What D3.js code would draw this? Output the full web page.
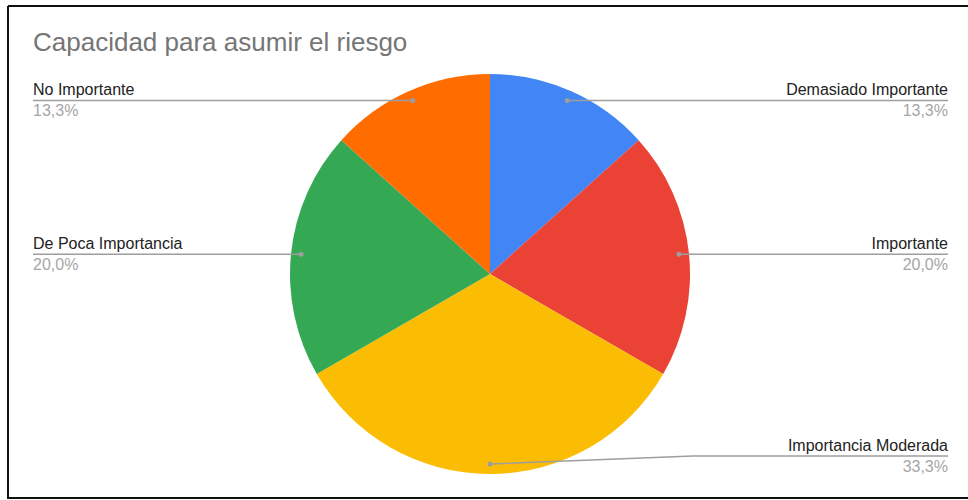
<!DOCTYPE html>
<html><head><meta charset="utf-8">
<script src="https://cdn.jsdelivr.net/npm/d3@7"></script>
<style>body{margin:0;background:#fff;}svg{display:block;font-family:"Liberation Sans",Arial,sans-serif;}</style>
</head><body><svg id="c" width="968" height="500"></svg>
<script>
const title = "Capacidad para asumir el riesgo";
const categories = ["Demasiado Importante","Importante","Importancia Moderada","De Poca Importancia","No Importante"];
const values = [2,3,5,3,2];
const colors = ["#4285f4","#ea4335","#fbbc04","#34a853","#ff6d01"];
const pctLabels = ["13,3%","20,0%","33,3%","20,0%","13,3%"];

const svg = d3.select("#c");
// frame
svg.append("path").attr("d","M8,6 H968 M8,6 V498 H968").attr("fill","none").attr("stroke","#111").attr("stroke-width",2);

svg.append("text").attr("x",33).attr("y",51).attr("font-size",26).attr("fill","#757575").text(title);

const cx=490, cy=274, R=200;
const pie = d3.pie().sort(null).value(d=>d)(values);
const arc = d3.arc().innerRadius(0).outerRadius(R);
const g = svg.append("g").attr("transform",`translate(${cx},${cy})`);
g.selectAll("path").data(pie).join("path").attr("d",arc).attr("fill",(d,i)=>colors[i]);

const lx=33, rx=948;
pie.forEach((d,i)=>{
  const a=(d.startAngle+d.endAngle)/2;
  const px=cx+0.95*R*Math.sin(a), py=cy-0.95*R*Math.cos(a);
  let isRight = Math.sin(a) > -1e-6;
  let ly = py;
  let pts;
  if (Math.abs(a-Math.PI)<1e-6) { // bottom label
    ly = py-8;
    pts = [[px,py],[693,ly],[rx,ly]];
    isRight = true;
  } else {
    pts = isRight ? [[px,py],[rx,py]] : [[px,py],[lx,py]];
  }
  svg.append("path").attr("d",d3.line()(pts)).attr("fill","none").attr("stroke","#9e9e9e").attr("stroke-width",1.5);
  svg.append("circle").attr("cx",px).attr("cy",py).attr("r",2.5).attr("fill","#9e9e9e");
  const tx = isRight? rx: lx, anchor = isRight? "end":"start";
  svg.append("text").attr("x",tx).attr("y",ly-5).attr("text-anchor",anchor).attr("font-size",16).attr("fill","#222").text(categories[i]);
  svg.append("text").attr("x",tx).attr("y",ly+16).attr("text-anchor",anchor).attr("font-size",16).attr("fill","#a6a6a6").text(pctLabels[i]);
});
</script></body></html>
